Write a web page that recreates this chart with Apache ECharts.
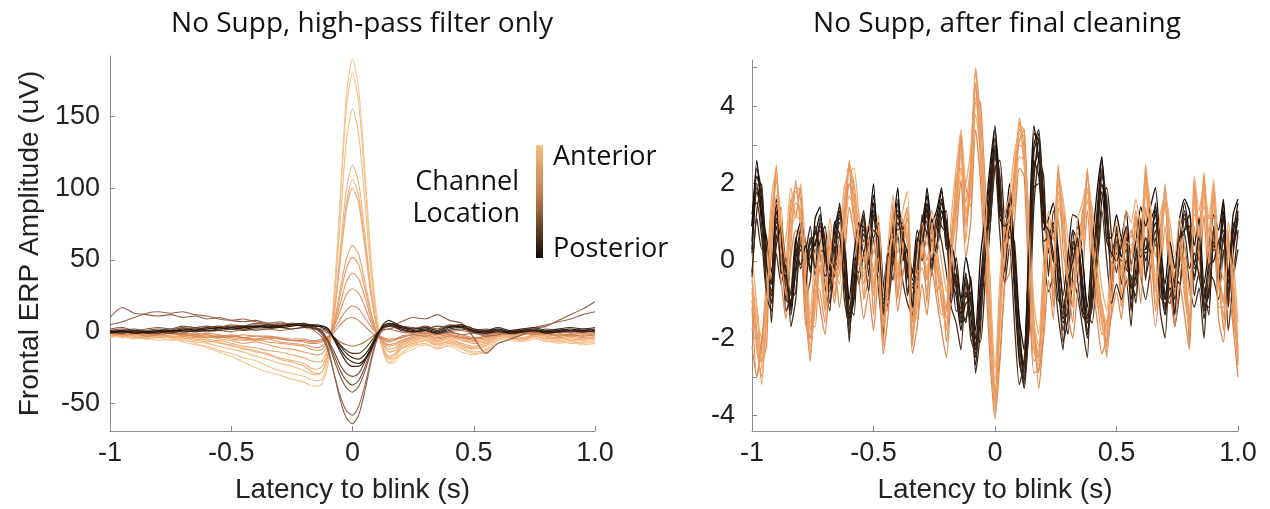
<!DOCTYPE html>
<html>
<head>
<meta charset="utf-8">
<script src="https://cdn.jsdelivr.net/npm/echarts@6/dist/echarts.min.js"></script>
<style>
  html, body { margin: 0; padding: 0; background: #fff; }
  #chart { width: 1270px; height: 509px; }
</style>
</head>
<body>
<div id="chart"></div>
<script>
// ---------- Panel 1: high-pass filter only (uV) ----------
// Sample times (s), finer around the blink peak
const latencyHP = [
  -1, -0.95, -0.9, -0.85, -0.8, -0.75, -0.7, -0.65, -0.6, -0.55,
  -0.5, -0.45, -0.4, -0.35, -0.3, -0.25, -0.2, -0.175, -0.15, -0.125,
  -0.1, -0.075, -0.05, -0.025, 0, 0.025, 0.05, 0.075, 0.1, 0.125,
  0.15, 0.175, 0.2, 0.25, 0.3, 0.35, 0.4, 0.45, 0.5, 0.55,
  0.6, 0.65, 0.7, 0.75, 0.8, 0.85, 0.9, 0.95, 1
];

// Anterior channels (large positive blink peak)
const hpAnt1 = [-3,-4,-2,-5,-4,-6,-5,-8,-11,-14, -17,-21,-25,-28,-30,-33,-35,-37,-38,-36,
  -22,25,95,165,190,170,115,55,12,-12, -22,-21,-16,-12,-9,-11,-10,-14,-16,-13, -8,-6,-7,-5,-6,-8,-7,-9,-8];
const hpAnt2 = [-2,-3,-5,-4,-6,-5,-7,-9,-10,-13, -15,-18,-20,-24,-27,-29,-31,-33,-34,-33,
  -18,28,92,156,180,160,108,50,10,-13, -21,-19,-15,-10,-8,-12,-9,-12,-15,-14, -6,-5,-6,-4,-7,-6,-8,-7,-6];
const hpAnt3 = [-4,-2,-3,-5,-3,-4,-6,-7,-8,-10, -12,-14,-17,-19,-22,-24,-27,-29,-30,-28,
  -15,22,78,133,155,138,93,43,8,-12, -19,-18,-12,-9,-6,-10,-8,-11,-14,-12, -5,-4,-6,-3,-5,-7,-6,-8,-7];
const hpAnt4 = [-1,-3,-2,-4,-2,-3,-5,-4,-6,-8, -9,-12,-13,-16,-18,-20,-22,-25,-26,-24,
  -12,15,58,99,116,104,70,32,5,-10, -17,-15,-10,-7,-5,-8,-7,-10,-12,-10, -4,-3,-5,-2,-4,-6,-5,-6,-5];
const hpAnt5 = [-2,-1,-3,-2,-4,-3,-4,-6,-5,-7, -10,-11,-14,-15,-19,-21,-24,-27,-29,-28,
  -14,12,52,90,106,95,64,29,3,-11, -18,-16,-11,-8,-6,-9,-6,-9,-11,-9, -3,-4,-5,-3,-5,-4,-6,-5,-4];
const hpAnt6 = [-3,-2,-4,-3,-2,-4,-3,-5,-7,-6, -8,-10,-11,-13,-14,-16,-18,-20,-21,-20,
  -10,14,50,85,100,90,60,27,4,-8, -14,-13,-9,-6,-4,-7,-5,-8,-10,-8, -3,-2,-4,-2,-3,-5,-4,-5,-4];
const hpAnt7 = [-2,-3,-1,-3,-2,-1,-3,-4,-3,-5, -6,-8,-7,-9,-11,-12,-14,-15,-16,-15,
  -8,7,30,51,60,54,36,15,0,-8, -12,-11,-8,-5,-3,-6,-4,-6,-8,-7, -2,-3,-2,-1,-3,-4,-3,-4,-3];
const hpAnt8 = [-1,-2,-2,-1,-3,-2,-2,-3,-4,-3, -5,-6,-5,-7,-8,-9,-10,-12,-13,-12,
  -6,6,26,44,52,47,31,13,0,-7, -10,-9,-7,-4,-2,-5,-3,-5,-7,-6, -2,-1,-2,0,-2,-3,-2,-3,-2];
const hpAnt9 = [0,-1,-2,-1,-2,-1,-3,-2,-4,-3, -4,-5,-6,-5,-7,-8,-9,-10,-11,-10,
  -5,5,20,35,41,37,25,10,-1,-6, -9,-8,-6,-3,-2,-4,-3,-4,-6,-5, -1,-2,-1,-1,-2,-2,-3,-2,-2];
const hpAnt10 = [-1,0,-1,-2,-1,0,-2,-1,-2,-3, -2,-4,-3,-4,-5,-6,-7,-8,-8,-7,
  -4,4,15,26,30,27,18,7,-1,-5, -7,-6,-4,-2,-1,-3,-2,-3,-5,-4, -1,-1,0,-1,-1,-2,-2,-1,-2];
const hpAnt11 = [0,-1,0,-1,-2,-1,-1,-2,-1,-2, -3,-2,-3,-3,-4,-5,-5,-6,-6,-5,
  -3,2,9,15,18,16,10,4,-1,-4, -5,-5,-3,-2,-1,-2,-1,-2,-4,-3, 0,-1,0,-1,0,-1,-2,-1,-1];
// Central channels
const hpMid1 = [-1,-2,-1,-3,-2,-1,-2,-3,-2,-4, -3,-4,-5,-4,-5,-6,-6,-7,-7,-6,
  -4,0,5,9,10,8,4,0,-3,-5, -6,-5,-4,-2,-3,-1,-2,-4,-5,-3, -1,-2,-1,-2,-1,-3,-2,-3,-2];
const hpMid2 = [1,0,-1,0,1,0,-1,1,0,1, 0,2,1,2,1,2,3,2,2,1,
  -1,-4,-7,-9,-10,-9,-7,-4,-1,1, 2,1,0,-1,0,-2,0,1,-1,-2, 0,-1,0,0,-1,0,-1,0,0];
// Channels with a deep negative deflection
const hpCen1 = [10,17,13,12,11,12,10,11,9,10, 8,7,8,6,7,5,6,4,2,-2,
  -12,-30,-48,-60,-64,-58,-42,-22,-6,2, 4,5,7,10,9,12,8,6,-4,-15, -8,-5,-2,2,4,8,12,16,21];
const hpCen2 = [5,7,10,13,14,13,14,12,11,9, 8,9,7,6,5,6,4,3,0,-4,
  -14,-30,-45,-55,-58,-52,-38,-20,-5,1, 2,3,2,0,1,-1,0,-2,-1,-3, -2,0,1,3,5,7,9,12,14];
const hpCen3 = [2,3,1,2,3,2,4,3,4,3, 5,4,5,4,6,5,5,4,2,-1,
  -8,-20,-31,-39,-42,-38,-28,-15,-4,2, 4,4,3,2,4,2,5,3,1,2, 0,1,2,0,1,2,1,2,1];
const hpCen4 = [1,2,0,1,2,1,3,2,3,4, 3,4,6,5,4,6,5,4,3,0,
  -7,-17,-27,-34,-37,-34,-25,-13,-3,3, 5,6,4,3,2,4,3,5,2,1, 2,0,1,0,2,1,0,1,0];
const hpCen5 = [0,1,2,0,1,2,2,3,2,3, 4,3,4,5,4,5,4,3,2,0,
  -6,-14,-23,-29,-31,-29,-21,-11,-2,3, 5,5,3,2,3,1,4,3,1,0, 1,-1,0,1,0,1,0,1,0];
// Posterior channels
const hpPost1 = [0,-1,1,0,0,-1,1,0,1,1, 2,1,2,2,3,2,3,3,2,2,
  0,-4,-9,-13,-15,-15,-12,-7,-1,3, 4,3,1,0,1,-1,1,2,0,-1, 0,-1,0,1,0,0,1,0,1];
const hpPost2 = [1,0,1,0,-1,1,0,1,3,2, 3,4,3,5,4,5,6,5,5,4,
  2,-6,-14,-21,-24,-24,-20,-13,-4,5, 8,6,4,2,3,1,4,5,2,1, 3,1,2,3,1,2,3,2,3];
const hpPost3 = [-1,0,0,-1,0,1,1,2,1,2, 3,2,3,4,3,4,5,4,4,3,
  1,-4,-10,-15,-18,-19,-16,-10,-2,3, 5,4,2,0,1,-1,2,3,0,-1, 1,-1,0,1,-1,0,1,0,1];
const hpPost4 = [0,1,-1,0,1,0,2,1,2,3, 2,3,4,3,4,5,4,5,4,4,
  2,-5,-12,-18,-21,-22,-19,-12,-3,4, 6,5,3,1,2,0,3,4,1,0, 2,0,1,2,0,1,2,1,2];

const hpChannels = [hpAnt1, hpAnt2, hpAnt3, hpAnt4, hpAnt5, hpAnt6, hpAnt7, hpAnt8, hpAnt9, hpAnt10, hpAnt11,
  hpMid1, hpMid2, hpCen1, hpCen2, hpCen3, hpCen4, hpCen5, hpPost1, hpPost2, hpPost3, hpPost4];
const hpColors = ['#F7C68E','#F5C088','#F4BA82','#F2B47C','#F0AE76','#EEA870','#EBA26C','#E89C68','#E49664','#DF9060','#D8895A',
  '#D08252','#B87248','#8E5E48','#946450','#85553E','#7A4C36','#6E432F','#5A3622','#3F2616','#2F1C10','#1E120A'];

// ---------- Panel 2: after final cleaning (uV), 20 ms samples ----------
// Posterior (dark) channels
const cleanPost1 = [0.5,2.2,1.6,-0.2,-1.1,1.3,0.2,-0.7,-1.4,-0.2, 0.5,-0.3,0.3,0.4,1.0,0.1,-0.8,0.5,1.3,-0.3,
  -1.9,-0.5,0.3,0.9,0.1,1.5,0.2,-1.3,-0.4,0.4, 1.5,0.3,-0.4,-0.9,0.2,0.8,1.5,0.4,0.9,1.6,
  0.6,-0.5,-0.9,-1.8,-0.8,-1.4,-2.7,-1.0,0.5,1.8, 3.2,1.6,0.3,1.5,-0.8,-2.6,-3.2,-0.5,3.3,3.1,
  1.2,0.3,0.8,-0.6,-1.8,-0.8,0.5,0.2,-0.9,-2.0, -0.6,1.0,2.4,1.0,-0.3,0.4,-0.2,0.5,-1.0,-0.2,
  0.6,0.0,0.7,1.2,-0.5,-1.4,-0.3,-1.0,0.2,1.3, 0.4,-0.4,0.3,-1.5,-0.6,0.5,0.0,1.3,-1.2,0.4, 1.3];
const cleanPost2 = [0.2,1.8,1.2,-0.4,-0.9,0.9,0.0,-0.5,-1.1,-0.3, 0.3,-0.2,0.1,0.5,0.8,-0.1,-0.6,0.3,1.0,-0.1,
  -1.5,-0.6,0.1,0.7,0.2,1.2,0.0,-1.0,-0.5,0.2, 1.2,0.4,-0.2,-0.7,0.0,0.6,1.2,0.5,0.7,1.3,
  0.5,-0.3,-0.7,-1.5,-0.9,-1.1,-2.3,-1.2,0.2,1.5, 2.8,1.8,0.5,1.2,-0.5,-2.2,-2.9,-0.8,2.4,2.8,
  1.4,0.5,0.6,-0.4,-1.5,-1.0,0.3,0.4,-0.6,-1.8, -0.8,0.7,2.0,1.2,-0.1,0.2,0.0,0.3,-0.8,-0.4,
  0.4,0.2,0.5,1.0,-0.3,-1.2,-0.5,-0.8,0.0,1.1, 0.5,-0.2,0.1,-1.3,-0.8,0.3,0.2,1.1,-1.0,0.2, 1.1];
const cleanPost3 = [1.4,1.5,0.6,-0.8,-0.4,0.6,1.0,-0.9,-0.8,0.6, -0.2,0.2,0.9,-0.4,0.5,0.9,-0.2,-0.4,0.7,0.6,
  -1.2,-1.4,0.8,0.2,0.9,0.6,1.0,-0.6,-1.2,0.9, 0.8,1.0,-0.8,-0.2,-0.7,1.2,0.7,1.1,0.2,1.1,
  1.3,-0.9,0.1,-1.1,-1.6,-0.4,-2.0,-2.1,-0.5,0.9, 2.4,2.6,1.0,0.6,0.5,-1.6,-3.0,-1.8,1.4,2.6,
  2.2,-0.4,1.3,0.3,-1.1,-1.9,-0.3,0.9,0.1,-1.4, -1.6,-0.1,1.6,1.9,0.6,-0.3,0.6,-0.2,-0.4,-1.1,
  0.9,-0.5,1.2,0.4,0.4,-0.9,-1.1,-0.4,-0.6,0.8, 1.2,-0.9,-0.3,-0.7,-1.4,0.9,-0.4,0.6,-0.4,-0.3, 0.8];
const cleanPost4 = [0.9,2.4,1.8,0.3,-0.6,1.5,0.5,-0.2,-0.9,0.1, 0.8,0.0,0.5,0.7,1.2,0.4,-0.4,0.8,1.4,0.1,
  -1.4,-0.2,0.6,1.1,0.4,1.7,0.5,-0.9,-0.1,0.7, 1.6,0.6,-0.1,-0.5,0.5,1.0,1.7,0.7,1.1,1.8,
  0.9,-0.1,-0.5,-1.4,-0.4,-1.0,-2.2,-0.6,0.9,2.2, 3.4,2.0,0.6,1.7,-0.4,-2.1,-2.8,-0.1,3.0,3.4,
  1.5,0.6,1.0,-0.3,-1.4,-0.4,0.8,0.5,-0.5,-1.6, -0.3,1.3,2.6,1.3,0.1,0.7,0.1,0.8,-0.7,0.1,
  0.9,0.3,1.0,1.4,-0.2,-1.0,0.0,-0.7,0.5,1.5, 0.7,-0.1,0.6,-1.1,-0.3,0.8,0.3,1.5,-0.9,0.7, 1.5];
const cleanPost5 = [-0.4,1.1,0.3,0.4,-1.6,0.2,-0.6,0.1,-1.7,-1.0, 0.6,-1.0,-0.5,0.8,0.2,-0.6,-1.3,0.6,0.6,-1.0,
  -1.7,0.1,-0.6,0.2,-0.8,0.6,-0.7,-1.9,0.1,-0.5, 0.7,-0.5,-1.1,-1.4,0.4,0.0,0.8,-0.4,1.0,0.5,
  -0.3,-1.2,-1.6,-2.3,-0.5,-2.0,-2.4,-0.7,-0.6,0.9, 2.5,0.7,-0.6,0.4,-1.6,-3.2,-2.6,0.0,1.9,2.0,
  0.2,-0.8,-0.4,-1.4,-2.3,-0.4,-0.5,-0.9,-1.7,-2.5, 0.0,0.0,1.3,0.0,-1.1,-0.6,-1.0,-0.5,-1.7,0.2,
  -0.4,-1.0,-0.2,0.6,-1.3,-2.0,0.1,-1.7,-0.8,0.4, -0.6,-1.2,-0.7,-2.0,-0.3,-0.5,-1.0,0.3,-1.8,-0.5, 0.3];
const cleanPost6 = [1.2,2.0,0.9,-0.5,-0.6,1.1,0.6,-1.0,-1.1,0.3, 0.4,-0.1,0.6,0.2,0.9,0.5,-0.5,0.0,1.2,0.2,
  -1.6,-1.0,0.5,0.8,0.4,1.3,0.6,-1.1,-0.8,0.5, 1.3,0.7,-0.3,-0.6,-0.2,0.9,1.3,0.8,0.7,1.5,
  1.0,-0.2,-0.6,-1.6,-1.1,-1.0,-2.5,-1.5,0.0,1.4, 3.0,2.2,0.6,1.3,-0.2,-2.0,-3.1,-1.3,2.1,3.2,
  1.7,0.2,0.9,-0.2,-1.6,-1.3,0.4,0.6,-0.7,-1.9, -1.0,0.5,2.3,1.4,0.1,0.5,0.1,0.6,-0.7,-0.6,
  0.3,0.3,0.6,1.3,-0.2,-1.3,-0.7,-0.9,0.4,1.2, 0.6,-0.5,0.4,-1.2,-0.9,0.4,0.2,1.2,-0.8,0.3, 1.2];
const cleanPost7 = [0.9,2.6,1.2,0.6,-0.3,1.6,-0.3,-0.4,-1.2,0.5, 1.0,0.5,-0.3,1.1,1.4,-0.4,-0.2,1.0,1.1,0.4,
  -1.0,0.2,1.0,0.5,0.8,2.0,-0.2,-0.6,0.3,0.9, 1.9,0.0,0.3,-0.3,0.8,0.4,1.9,1.0,1.3,1.9,
  0.3,0.4,-0.2,-1.0,0.1,-0.6,-1.8,0.1,1.2,2.5, 3.5,1.2,1.1,2.0,0.2,-1.5,-2.3,0.6,3.5,2.6,
  0.8,1.1,1.5,0.2,-0.9,0.1,1.2,1.1,0.1,-1.2, 0.4,1.8,2.7,0.6,0.6,1.2,0.6,1.3,-0.1,0.5,
  1.4,0.9,1.4,1.9,0.4,-0.6,0.5,-0.2,1.1,1.6, 1.3,0.4,1.1,-0.6,0.3,1.2,0.8,1.6,-0.4,1.2, 1.6];
const cleanPost8 = [-0.3,1.3,2.0,-0.9,-1.3,1.0,0.8,-1.3,-1.0,-0.8, 0.9,-0.7,0.5,-0.2,1.1,0.6,-1.1,-0.2,1.5,0.3,
  -2.1,-0.2,-0.3,1.2,-0.4,1.1,0.7,-1.0,-1.0,0.0, 1.2,0.8,-0.9,-0.3,-0.5,1.1,1.0,-0.2,1.2,0.9,
  0.7,-1.1,-0.3,-1.6,-1.5,-0.8,-2.9,-1.8,0.7,1.1, 2.7,2.1,-0.3,0.9,-0.3,-2.4,-3.3,-1.5,2.8,3.3,
  0.5,0.6,0.0,-0.2,-2.1,-1.5,0.8,-0.5,-1.4,-1.6, -1.2,0.3,2.2,1.6,-0.8,0.9,-0.6,0.0,-0.6,-0.9,
  1.1,-0.4,0.2,0.8,-0.9,-1.1,-0.9,-0.5,0.6,0.7, -0.2,0.2,-0.4,-1.1,-1.2,0.9,-0.6,0.7,-1.1,1.0, 0.6];
const cleanPost9 = [0.3,1.9,1.5,-0.1,-0.8,0.4,0.9,-0.3,-1.3,0.2, -0.1,0.4,-0.2,0.9,0.3,0.2,-0.6,0.9,0.7,-0.6,
  -1.5,-0.9,0.6,1.3,-0.1,0.8,0.6,-1.4,0.2,-0.1, 1.0,0.6,0.2,-1.2,0.6,0.4,1.4,0.0,0.4,1.3,
  0.9,0.1,-1.3,-1.2,-0.3,-1.8,-2.2,-0.6,0.1,2.0, 2.9,1.1,0.9,1.0,-0.6,-2.1,-2.7,0.3,2.6,2.2,
  1.0,0.8,0.2,-1.0,-1.2,-0.5,0.0,0.6,-1.3,-1.5, -0.2,1.1,1.8,0.5,0.2,0.0,0.4,0.9,-1.3,0.3,
  0.1,0.6,0.2,1.5,0.1,-1.0,-0.1,-1.4,0.6,0.8, 0.9,-0.1,0.7,-1.0,-0.1,0.0,0.5,0.8,-0.6,0.9, 1.1];

// Anterior (orange) channels
const cleanAnt1 = [-1.0,-2.3,-3.0,-1.5,0.8,2.1,0.6,-0.5,1.2,1.8, 1.6,-0.8,-2.4,-1.0,-0.2,-1.3,0.4,-0.6,-0.3,1.2,
  2.4,1.8,0.4,-0.6,0.2,-0.9,0.5,-2.0,-0.5,1.0, -0.4,0.6,1.1,-2.1,-0.8,0.3,-0.5,0.6,-0.2,-1.0,
  -1.8,0.4,1.5,3.2,1.0,2.0,4.9,3.4,1.0,-1.8, -4.0,-1.6,0.5,0.8,2.0,3.4,3.2,0.2,-2.2,-2.9,
  -1.0,0.5,-0.6,2.2,0.8,-0.4,-1.2,0.3,0.8,2.2, 0.5,-0.6,-1.6,-2.2,-0.4,0.2,-0.6,0.6,0.2,1.0,
  -0.2,2.4,0.6,-0.8,0.5,1.8,0.2,-0.8,0.4,-0.5, -1.9,2.0,0.5,2.1,0.3,1.9,-0.6,-1.4,0.3,-0.8, -2.7];
const cleanAnt2 = [-0.7,-1.9,-2.6,-1.3,0.5,1.7,0.6,-0.3,0.9,1.5, 1.3,-0.5,-2.0,-0.9,-0.1,-1.0,0.2,-0.4,-0.1,0.9,
  2.0,1.6,0.4,-0.4,0.1,-0.7,0.3,-1.6,-0.5,0.8, -0.2,0.5,0.9,-1.8,-0.7,0.2,-0.4,0.4,-0.1,-0.8,
  -1.5,0.2,1.2,2.8,1.2,2.2,4.5,3.2,0.7,-1.5, -3.6,-1.8,0.3,0.6,1.7,3.0,2.9,0.4,-1.9,-2.6,
  -1.2,0.3,-0.4,1.8,1.0,-0.2,-1.0,0.2,0.6,1.9, 0.7,-0.4,-1.3,-1.9,-0.6,0.1,-0.4,0.4,0.3,0.8,
  0.0,2.0,0.8,-0.6,0.3,1.5,0.4,-0.6,0.2,-0.3, -1.6,1.7,0.6,1.8,0.5,1.6,-0.3,-1.1,0.1,-0.6, -2.3];
const cleanAnt3 = [-1.8,-1.2,-2.6,-2.2,1.3,1.0,1.4,-1.1,0.4,2.1, 0.9,0.2,-1.7,-1.7,0.3,-0.6,-0.4,-1.1,0.4,0.5,
  2.6,1.0,1.2,-1.0,-0.5,-0.2,-0.4,-1.4,-1.2,1.5, -1.0,1.1,0.4,-1.4,-1.5,0.9,-1.1,1.1,-0.8,-0.5,
  -2.1,-0.4,2.2,2.4,1.9,1.4,4.2,4.1,1.9,-0.6, -3.4,-2.5,-0.5,1.6,1.4,3.6,2.5,1.0,-1.5,-3.3,
  -1.8,1.1,-1.2,1.3,1.6,-1.0,-0.6,-0.5,1.3,1.5, 1.4,-1.2,-1.1,-2.4,-1.2,0.6,-1.2,0.0,0.8,0.3,
  0.5,1.7,1.3,-1.3,-0.3,2.0,-0.4,-0.3,-0.3,0.1, -2.2,1.2,1.1,1.4,1.1,1.1,-0.2,-1.8,0.8,-1.5, -2.2];
const cleanAnt4 = [-0.4,-1.5,-2.0,-0.9,0.7,1.4,0.3,-0.2,0.7,1.2, 1.0,-0.3,-1.6,-0.6,0.1,-0.8,0.3,-0.2,0.0,0.7,
  1.7,1.3,0.2,-0.3,0.3,-0.5,0.4,-1.3,-0.2,0.7, -0.1,0.4,0.8,-1.5,-0.5,0.3,-0.2,0.5,0.0,-0.6,
  -1.2,0.2,1.0,2.4,0.9,1.8,3.8,2.9,0.8,-1.1, -3.1,-1.2,0.4,0.7,1.5,2.7,2.6,0.3,-1.6,-2.2,
  -0.8,0.4,-0.3,1.6,0.7,-0.2,-0.8,0.3,0.6,1.6, 0.4,-0.3,-1.2,-1.6,-0.3,0.3,-0.3,0.5,0.2,0.8,
  0.0,1.8,0.5,-0.5,0.4,1.4,0.3,-0.5,0.3,-0.3, -1.4,1.5,0.4,1.6,0.3,1.4,-0.4,-1.0,0.2,-0.5, -2.0];
const cleanAnt5 = [-2.2,-3.0,-2.2,-0.6,-0.4,1.2,-0.5,-1.5,0.1,0.8, 0.6,-1.6,-2.0,-0.4,-1.2,-1.9,-0.6,-0.2,-1.2,0.0,
  1.4,0.7,-0.5,-1.5,-0.8,-1.8,-0.4,-2.4,-1.4,0.1, -1.3,-0.4,0.2,-2.4,-1.7,-0.6,-1.4,-0.2,-1.0,-1.8,
  -2.5,-0.8,0.6,2.1,0.1,1.0,3.4,2.1,-0.2,-2.6, -4.1,-2.6,-0.6,-0.3,1.0,2.4,2.2,-0.8,-2.9,-2.8,
  -2.0,-0.5,-1.5,1.1,-0.3,-1.4,-2.0,-0.8,-0.3,1.3, -0.5,-1.5,-2.4,-2.0,-1.4,-0.8,-1.5,-0.4,-0.8,0.0,
  -1.1,1.4,-0.4,-1.7,-0.5,0.9,-0.7,-1.7,-0.6,-1.4, -2.3,0.9,-0.5,1.2,-0.7,0.9,-1.5,-2.1,-0.7,-1.7, -3.0];
const cleanAnt6 = [-0.5,-1.8,-2.4,-0.8,1.2,2.2,1.0,0.1,1.5,1.9, 1.8,-0.2,-1.8,-0.5,0.3,-0.7,0.7,-0.1,0.2,1.5,
  2.5,2.0,0.8,0.0,0.6,-0.3,0.8,-1.4,-0.1,1.3, 0.2,0.9,1.4,-1.6,-0.4,0.6,0.0,0.9,0.3,-0.5,
  -1.3,0.7,1.9,3.3,1.5,2.5,5.0,3.7,1.4,-1.2, -3.5,-1.1,0.8,1.2,2.4,3.5,3.4,0.7,-1.7,-2.5,
  -0.6,0.9,0.0,2.3,1.2,0.1,-0.7,0.7,1.1,2.3, 0.9,-0.2,-1.2,-1.8,-0.1,0.6,-0.2,0.9,0.6,1.3,
  0.3,2.5,1.0,-0.4,0.8,1.9,0.6,-0.4,0.7,-0.1, -1.5,2.1,0.9,2.2,0.7,2.0,-0.2,-1.0,0.6,-0.4, -2.4];
const cleanAnt7 = [0.2,-1.2,-2.8,-0.4,1.6,2.4,0.2,0.6,1.9,1.1, 2.0,0.3,-1.4,0.2,0.7,-0.3,1.1,0.4,0.6,1.9,
  2.3,2.4,1.2,0.4,1.0,0.2,1.2,-0.9,0.4,1.7, 0.6,1.3,1.8,-1.0,0.1,1.0,0.4,1.3,0.7,0.0,
  -0.8,1.1,2.4,3.4,2.0,2.9,4.6,3.0,1.9,-0.6, -2.8,-0.5,1.2,1.7,2.8,3.3,2.8,1.2,-1.1,-1.9,
  0.0,1.3,0.5,2.3,1.6,0.6,-0.2,1.1,1.5,2.1, 1.3,0.3,-0.7,-1.3,0.4,1.0,0.3,1.3,1.0,1.6,
  0.8,2.3,1.4,0.1,1.2,1.7,1.0,0.1,1.1,0.4, -0.9,2.2,1.3,2.0,1.1,2.1,0.3,-0.5,1.0,0.1, -1.6];
const cleanAnt8 = [-1.2,-3.0,-2.0,-1.0,0.2,2.5,0.1,-0.9,1.6,1.2, 1.9,-1.2,-2.6,-0.6,-0.8,-1.6,0.8,-0.9,0.2,1.1,
  2.0,1.2,-0.1,-0.2,0.6,-1.4,0.9,-2.2,0.1,0.6, -0.9,0.2,1.3,-2.2,-0.3,-0.2,-0.8,0.9,-0.6,-1.4,
  -1.3,0.6,1.3,3.3,0.5,2.4,4.6,2.6,0.5,-2.1, -3.7,-1.3,0.9,0.3,2.3,3.1,3.4,-0.2,-2.6,-2.4,
  -0.7,0.7,-0.9,2.5,0.3,-0.6,-1.6,0.6,0.3,2.4, 0.2,-0.9,-1.9,-1.6,-0.8,0.4,-0.9,0.8,-0.3,1.2,
  -0.5,2.3,0.3,-1.1,0.7,1.5,-0.2,-1.2,0.6,-0.9, -1.7,1.9,0.0,2.3,-0.2,1.8,-1.2,-1.2,0.5,-1.1, -2.6];
const cleanAnt9 = [-0.8,-2.0,-3.2,-1.2,0.9,1.5,0.9,-0.1,0.7,2.0, 1.0,-0.6,-2.2,-1.2,0.4,-1.2,0.0,-0.3,-0.6,1.4,
  2.5,1.5,0.6,-0.9,0.4,-0.6,0.1,-1.7,-0.7,1.2, -0.5,0.8,0.7,-1.9,-1.2,0.5,-0.3,0.3,0.1,-1.1,
  -1.7,0.0,1.7,2.9,1.3,1.7,4.1,3.6,0.9,-1.7, -3.9,-1.4,0.3,1.1,1.8,3.7,2.9,0.5,-2.3,-2.7,
  -1.3,0.6,-0.5,2.0,1.0,-0.5,-1.1,0.0,1.0,1.8, 0.6,-0.7,-1.5,-2.5,-0.2,0.0,-0.4,0.5,0.4,0.6,
  -0.3,2.1,0.7,-0.7,0.2,1.7,0.2,-0.9,0.5,-0.6, -1.8,1.8,0.6,2.0,0.2,1.7,-0.5,-1.5,0.4,-0.7, -2.5];

const cleanPost = [cleanPost1, cleanPost2, cleanPost3, cleanPost4, cleanPost5, cleanPost6, cleanPost7, cleanPost8, cleanPost9];
const cleanAnt = [cleanAnt1, cleanAnt2, cleanAnt3, cleanAnt4, cleanAnt5, cleanAnt6, cleanAnt7, cleanAnt8, cleanAnt9];
const cleanPostColors = ['#1C100A','#2B1A10','#3A2416','#24150C','#4A2E1C','#332014','#180D07','#40271A','#2E1C12'];
const cleanAntColors = ['#E8965A','#EFA468','#E38C52','#F2B078','#DD8850','#EA9C62','#F0AA70','#E69258','#ECA066'];

// 20 ms sampling grid from -1 s to 1 s
const latencyClean = Array.from({ length: 101 }, (_, i) => +(-1 + i * 0.02).toFixed(2));

// Axis ticks and labels
const hpTicks = [-50, 0, 50, 100, 150];
const cleanTicks = [-4, -3, -2, -1, 0, 1, 2, 3, 4, 5];
const cleanLabels = [-4, -2, 0, 2, 4];

// ---------- Chart ----------
const axisGray = '#8c8c8c';
const tickFont = { fontSize: 27, color: '#222', fontFamily: 'Liberation Sans, Arial, sans-serif' };
const labelFont = 'Open Sans, sans-serif';

function pairs(xs, ys) { return xs.map((x, i) => [x, ys[i]]); }
function lineSeries(name, xs, ys, color, axis, width, smooth) {
  return {
    name, type: 'line', xAxisIndex: axis, yAxisIndex: axis,
    data: pairs(xs, ys), showSymbol: false, symbol: 'none', smooth,
    lineStyle: { color, width }, silent: true, animation: false, z: 2
  };
}

const series = [];
hpChannels.forEach((ch, i) => series.push(lineSeries('hp' + i, latencyHP, ch, hpColors[i], 0, 1.1, 0.25)));
for (let k = 0; k < cleanPost.length; k++) {
  series.push(lineSeries('post' + k, latencyClean, cleanPost[k], cleanPostColors[k], 1, 1.3, 0.2));
  series.push(lineSeries('ant' + k, latencyClean, cleanAnt[k], cleanAntColors[k], 1, 1.3, 0.2));
}

function xAxisFor(idx) {
  return {
    gridIndex: idx, type: 'value', min: -1, max: 1, interval: 0.5,
    axisLine: { onZero: false, lineStyle: { color: axisGray, width: 1 } },
    axisTick: { inside: true, length: 5, lineStyle: { color: axisGray } },
    axisLabel: Object.assign({ margin: 9, formatter: v => (v === 1 ? '1.0' : String(v)) }, tickFont),
    splitLine: { show: false },
    name: 'Latency to blink (s)', nameLocation: 'middle', nameGap: 45,
    nameTextStyle: { fontSize: 28, color: '#222', fontFamily: tickFont.fontFamily }
  };
}

const option = {
  backgroundColor: '#fff',
  animation: false,
  grid: [
    { left: 110, right: 675, top: 56, bottom: 77 },
    { left: 752, right: 32, top: 60, bottom: 77 }
  ],
  xAxis: [xAxisFor(0), xAxisFor(1)],
  yAxis: [
    {
      gridIndex: 0, type: 'value', min: -69, max: 192,
      axisLine: { show: true, onZero: false, lineStyle: { color: axisGray } },
      axisTick: { show: true, inside: true, length: 5, customValues: hpTicks, lineStyle: { color: axisGray } },
      axisLabel: Object.assign({ margin: 10, customValues: hpTicks }, tickFont),
      splitLine: { show: false },
      name: 'Frontal ERP Amplitude (uV)', nameLocation: 'middle', nameGap: 66, nameRotate: 90,
      nameTextStyle: { fontSize: 28, color: '#222', fontFamily: tickFont.fontFamily }
    },
    {
      gridIndex: 1, type: 'value', min: -4.4, max: 5.2,
      axisLine: { show: true, onZero: false, lineStyle: { color: axisGray } },
      axisTick: { show: true, inside: true, length: 5, customValues: cleanTicks, lineStyle: { color: axisGray } },
      axisLabel: Object.assign({ margin: 17, customValues: cleanLabels }, tickFont),
      splitLine: { show: false }
    }
  ],
  graphic: [
    { type: 'text', x: 362, y: 24, style: { text: 'No Supp, high-pass filter only', fill: '#111', font: '28px ' + labelFont, textAlign: 'center', textVerticalAlign: 'middle' } },
    { type: 'text', x: 997, y: 24, style: { text: 'No Supp, after final cleaning', fill: '#111', font: '28px ' + labelFont, textAlign: 'center', textVerticalAlign: 'middle' } },
    { type: 'rect', shape: { x: 536, y: 145, width: 7, height: 113 },
      style: { fill: { type: 'linear', x: 0, y: 0, x2: 0, y2: 1, colorStops: [
        { offset: 0, color: '#F6BC80' }, { offset: 0.45, color: '#C07E50' }, { offset: 1, color: '#120A05' } ] } } },
    { type: 'text', x: 553, y: 157, style: { text: 'Anterior', fill: '#111', font: '27px ' + labelFont, textAlign: 'left', textVerticalAlign: 'middle' } },
    { type: 'text', x: 553, y: 249, style: { text: 'Posterior', fill: '#111', font: '27px ' + labelFont, textAlign: 'left', textVerticalAlign: 'middle' } },
    { type: 'text', x: 519, y: 182, style: { text: 'Channel', fill: '#111', font: '27px ' + labelFont, textAlign: 'right', textVerticalAlign: 'middle' } },
    { type: 'text', x: 520, y: 214, style: { text: 'Location', fill: '#111', font: '27px ' + labelFont, textAlign: 'right', textVerticalAlign: 'middle' } }
  ],
  series
};

const chart = echarts.init(document.getElementById('chart'), null, { renderer: 'canvas' });
chart.setOption(option);
</script>
</body>
</html>
